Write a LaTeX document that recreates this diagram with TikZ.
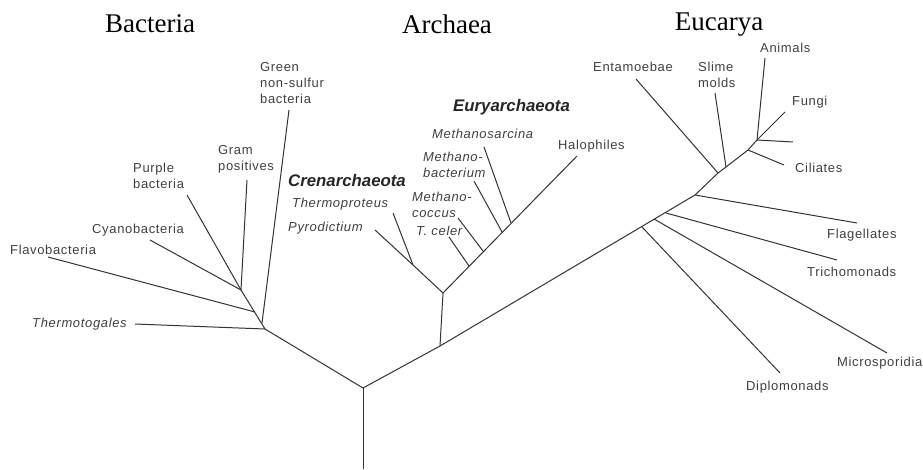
\documentclass[tikz,border=0pt]{standalone}
\usepackage{fontspec}
\setmainfont{Liberation Serif}
\setsansfont{Liberation Sans}
\newfontfamily\taxonfont{Liberation Sans}[LetterSpace=5]

\begin{document}
\begin{tikzpicture}[
    x=1pt, y=-1pt,
    branch/.style={draw=black!80, line width=1pt},
    realm/.style={font=\fontsize{27}{30}\selectfont, inner sep=0pt},
    taxon/.style={font=\taxonfont\fontsize{13}{16}\selectfont, text=black!75, inner sep=0pt, anchor=west},
    genus/.style={taxon, font=\taxonfont\itshape\fontsize{13}{16}\selectfont},
    phylum/.style={taxon, font=\sffamily\bfseries\itshape\fontsize{16.8}{19}\selectfont, text=black!85},
    multi/.style={align=left, anchor=north west}
]
\useasboundingbox (0,0) rectangle (923,470);

% ====================
% Domini
% ====================
\node[realm] (TB) at (150,24) {Bacteria};
\node[realm] (TA) at (447,24) {Archaea};
\node[realm] (TE) at (719,25) {Eucarya};

% ====================
% Tronco
% ====================
\coordinate (ROOT) at (363,469);
\coordinate (LUCA) at (363,388);
\draw[branch] (ROOT) -- (LUCA);

% ====================
% Bacteria
% ====================
\coordinate (B1) at (265,329);
\coordinate (B2) at (241,290);
\coordinate (GREENJ) at (262,323);
\coordinate (FLAVOJ) at (255,312);

\coordinate (THERMO) at (135,324);
\coordinate (GREEN) at (289,110);
\coordinate (FLAVO) at (48,257);
\coordinate (GRAM) at (247,180);
\coordinate (PURPLE) at (187,195);
\coordinate (CYANO) at (150,240);

\draw[branch] (LUCA) -- (B1) -- (B2);
\draw[branch] (B1) -- (THERMO);
\draw[branch] (GREENJ) -- (GREEN);
\draw[branch] (FLAVOJ) -- (FLAVO);
\draw[branch] (B2) -- (GRAM);
\draw[branch] (B2) -- (PURPLE);
\draw[branch] (B2) -- (CYANO);

\node[genus] (L_THERMO) at (32,324) {Thermotogales};
\node[taxon, multi] (L_GREEN) at (260,62) {Green\\non-sulfur\\bacteria};
\node[taxon] (L_FLAVO) at (10,250) {Flavobacteria};
\node[taxon, multi] (L_GRAM) at (218,145) {Gram\\positives};
\node[taxon, multi] (L_PURPLE) at (133,163) {Purple\\bacteria};
\node[taxon] (L_CYANO) at (92,230) {Cyanobacteria};

% ====================
% Archaea
% ====================
\coordinate (A0) at (440,346);
\coordinate (A1) at (443,293);
\coordinate (CREN) at (413,265);
\coordinate (PYRO) at (375,230);
\coordinate (TPROT) at (393,213);

\coordinate (HALO) at (577,156);
\coordinate (CELERJ) at (469,266);
\coordinate (COCCJ) at (483,251);
\coordinate (MBACTJ) at (502,232);
\coordinate (SARCJ) at (511,223);
\coordinate (CELER) at (449,237);
\coordinate (COCC) at (458,218);
\coordinate (MBACT) at (474,181);
\coordinate (SARC) at (484,147);

\draw[branch] (A0) -- (A1);
\draw[branch] (A1) -- (CREN) -- (PYRO);
\draw[branch] (CREN) -- (TPROT);
\draw[branch] (A1) -- (HALO);
\draw[branch] (CELERJ) -- (CELER);
\draw[branch] (COCCJ) -- (COCC);
\draw[branch] (MBACTJ) -- (MBACT);
\draw[branch] (SARCJ) -- (SARC);

\node[phylum] (L_CREN) at (288,180) {Crenarchaeota};
\node[genus] (L_TPROT) at (292,204) {Thermoproteus};
\node[genus] (L_PYRO) at (288,228) {Pyrodictium};
\node[phylum] (L_EURY) at (453,107) {Euryarchaeota};
\node[genus] (L_SARC) at (432,134) {Methanosarcina};
\node[genus, multi] (L_MBACT) at (423,152) {Methano-\\bacterium};
\node[genus, multi] (L_COCC) at (412,192) {Methano-\\coccus};
\node[genus] (L_CELER) at (416,231) {T. celer};
\node[taxon] (L_HALO) at (558,146) {Halophiles};

% ====================
% Eucarya
% ====================
\coordinate (DIPLOJ) at (642,227);
\coordinate (MICROJ) at (654,219);
\coordinate (TRICHJ) at (666,213);
\coordinate (FLAGJ) at (695,195);
\coordinate (ENTJ) at (718,173);
\coordinate (SLIMEJ) at (726,167);
\coordinate (CILJ) at (748,150);
\coordinate (CROWN) at (757,140);

\coordinate (DIPLO) at (780,373);
\coordinate (MICRO) at (887,353);
\coordinate (TRICH) at (837,260);
\coordinate (FLAG) at (857,223);
\coordinate (ENT) at (636,79);
\coordinate (SLIME) at (715,93);
\coordinate (CIL) at (784,165);
\coordinate (ANIM) at (765,58);
\coordinate (FUNGI) at (785,112);
\coordinate (STUB) at (793,142);

\draw[branch] (LUCA) -- (A0) -- (FLAGJ) -- (ENTJ) -- (SLIMEJ) -- (CILJ) -- (CROWN) -- (FUNGI);
\draw[branch] (DIPLOJ) -- (DIPLO);
\draw[branch] (MICROJ) -- (MICRO);
\draw[branch] (TRICHJ) -- (TRICH);
\draw[branch] (FLAGJ) -- (FLAG);
\draw[branch] (ENTJ) -- (ENT);
\draw[branch] (SLIMEJ) -- (SLIME);
\draw[branch] (CILJ) -- (CIL);
\draw[branch] (CROWN) -- (ANIM);
\draw[branch] (CROWN) -- (STUB);

\node[taxon] (L_DIPLO) at (746,387) {Diplomonads};
\node[taxon] (L_MICRO) at (837,363) {Microsporidia};
\node[taxon] (L_TRICH) at (807,272) {Trichomonads};
\node[taxon] (L_FLAG) at (827,235) {Flagellates};
\node[taxon] (L_ENT) at (593,67) {Entamoebae};
\node[taxon, multi] (L_SLIME) at (698,62) {Slime\\molds};
\node[taxon] (L_CIL) at (795,168) {Ciliates};
\node[taxon] (L_ANIM) at (760,48) {Animals};
\node[taxon] (L_FUNGI) at (792,102) {Fungi};

\end{tikzpicture}
\end{document}
